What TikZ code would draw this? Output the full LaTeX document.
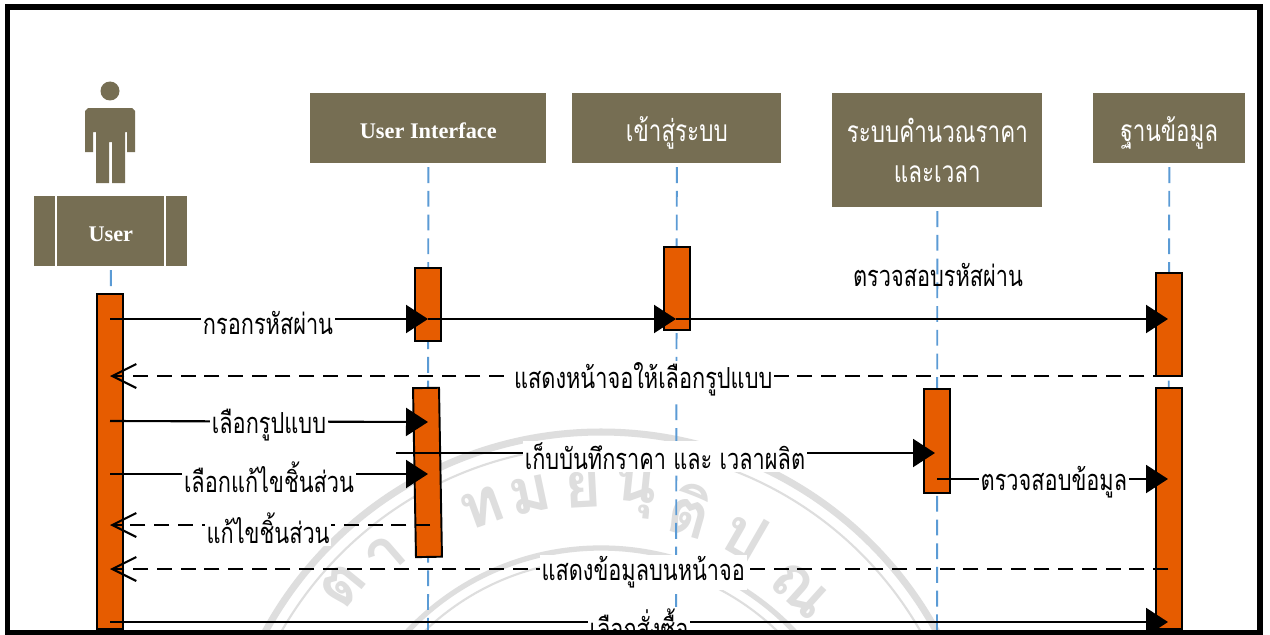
\documentclass[tikz,border=0pt]{standalone}
\usepackage{fontspec}
\usetikzlibrary{arrows.meta}
\setmainfont{Liberation Serif}
\newfontfamily\thaifont[Script=Thai,FakeStretch=0.75]{Loma}
\newfontfamily\sealfont[Script=Thai]{Loma}
\definecolor{boxolive}{HTML}{766E53}
\definecolor{actorange}{HTML}{E65C00}
\definecolor{lifeblue}{HTML}{5B9BD5}
\definecolor{sealgray}{HTML}{DEDEDE}
\tikzset{
  headbox/.style={fill=boxolive,text=white,inner sep=0pt,anchor=north west},
  headlatin/.style={headbox,font=\bfseries\fontsize{12.7}{15}\selectfont,text height=12pt},
  headthai/.style={headbox,font=\thaifont\fontsize{17}{23}\selectfont,align=center},
  lifeline/.style={draw=lifeblue,line width=1.1pt,dash pattern=on 9pt off 4.5pt,shorten <=2pt},
  actbox/.style={draw=black,line width=1.1pt,fill=actorange,inner sep=0pt,minimum width=0.52cm,anchor=north},
  msg/.style={line width=1.2pt,-{Triangle[length=0.44cm,width=0.56cm]}},
  reply/.style={line width=1.2pt,dash pattern=on 8.5pt off 5pt,-{Straight Barb[length=0.48cm,width=0.48cm,line width=1.2pt]}},
  thailabel/.style={font=\thaifont\fontsize{16.5}{19}\selectfont,inner sep=1pt},
  whitelabel/.style={thailabel,fill=white},
  seal/.style={draw=sealgray,line width=2pt},
  sealletter/.style={text=sealgray,font=\sealfont\bfseries\fontsize{36}{36}\selectfont,inner sep=0pt},
}
\begin{document}
\begin{tikzpicture}[x=0.02cm,y=-0.02cm]
  \useasboundingbox (0,0) rectangle (1270,635);
  \fill[white] (0,0) rectangle (1270,635);

  % seal behind everything
  \begin{scope}
    \clip (10,10) rectangle (1258,630);
    \draw[seal,line width=4pt] (601,814) circle (382);
    \draw[seal,line width=1.2pt] (601,814) circle (368);
    \draw[seal,line width=3pt] (601,814) circle (266);
    \draw[seal,line width=1.2pt] (601,814) circle (254);
    \node[sealletter,rotate=20] (seal1) at (482,508) {ท};
    \node[sealletter,rotate=12] (seal2) at (530,495) {ม};
    \node[sealletter,rotate=3] (seal3) at (583,490) {ย};
    \node[sealletter,rotate=-6] (seal4) at (635,492) {นุ};
    \node[sealletter,rotate=-16] (seal5) at (690,510) {ติ};
    \node[sealletter,rotate=-30] (seal6) at (745,535) {ป};
    \node[sealletter,rotate=-42] (seal7) at (800,590) {ณ};
    \node[sealletter,rotate=51] (seal8) at (343,585) {ต};
    \node[sealletter,rotate=41] (seal9) at (385,555) {า};
  \end{scope}

  % heads
  \node[headlatin,minimum width=4.72cm,minimum height=1.4cm] (ui) at (310,93) {User Interface};
  \node[headthai,minimum width=4.18cm,minimum height=1.4cm,text height=19pt] (login) at (572,93) {เข้าสู่ระบบ};
  \node[headthai,minimum width=4.2cm,minimum height=2.28cm] (calc) at (832,93) {ระบบคำนวณราคา\\และเวลา};
  \node[headthai,minimum width=3.04cm,minimum height=1.4cm,text height=19pt] (db) at (1093,93) {ฐานข้อมูล};

  % actor
  \node[headlatin,minimum width=3.06cm,minimum height=1.4cm] (user) at (34,196) {User};
  \draw[white,line width=1.1pt] (56,196) -- (56,266) (165,196) -- (165,266);
  \fill[boxolive] (110,91) circle (9.5);
  \fill[boxolive] (88,108) -- (132,108) -- (135,111) -- (135,152) -- (127,152) -- (127,132) -- (125,132) -- (125,183) -- (112,183) -- (112,142) -- (109,142) -- (109,183) -- (96,183) -- (96,132) -- (93,132) -- (93,152) -- (85,152) -- (85,111) -- cycle;

  % lifelines
  \coordinate (userend) at (110,635);
  \coordinate (uiend) at (428,635);
  \coordinate (loginend) at (676,635);
  \coordinate (calcend) at (937,635);
  \coordinate (dbend) at (1168,635);
  \draw[lifeline] (user.south) -- (userend);
  \draw[lifeline] (ui.south) -- (uiend);
  \draw[lifeline] (login.south) -- (loginend);
  \draw[lifeline] (calc.south) -- (calcend);
  \draw[lifeline] (db.south) -- (dbend);

  % activations
  \node[actbox,minimum height=6.7cm] (useract) at (110,293) {};
  \node[actbox,minimum height=1.46cm] (uiacta) at (428,267) {};
  \node[actbox,minimum height=1.66cm] (loginact) at (677,246) {};
  \node[actbox,minimum height=2.06cm] (dbacta) at (1169,272) {};
  \node[actbox,minimum height=3.38cm,rotate=1] (uiactb) at (426,387) {};
  \node[actbox,minimum height=2.08cm] (calcact) at (937,388) {};
  \node[actbox,minimum height=4.82cm] (dbactb) at (1169,387) {};

  % messages
  \coordinate (a1) at (110,319);
  \coordinate (a2) at (428,319);
  \coordinate (a3) at (676,319);
  \coordinate (a4) at (1168,319);
  \draw[msg] (a1) -- node[whitelabel,pos=0.497,yshift=-2pt] (m1) {กรอกรหัสผ่าน} (a2);
  \draw[msg] (a2) -- (a3);
  \draw[msg] (a3) -- (a4);
  \node[thailabel] (m2) at (938,275) {ตรวจสอบรหัสผ่าน};

  \coordinate (b1) at (1168,376);
  \coordinate (b2) at (110,376);
  \draw[reply] (b1) -- node[whitelabel,pos=0.496,yshift=-2pt] (m3) {แสดงหน้าจอให้เลือกรูปแบบ} (b2);

  \coordinate (c1) at (110,421);
  \coordinate (c2) at (428,422);
  \draw[msg] (c1) -- node[whitelabel,pos=0.5,yshift=-2pt] (m4) {เลือกรูปแบบ} (c2);

  \coordinate (d1) at (396,453);
  \coordinate (d2) at (935,453);
  \draw[msg] (d1) -- node[whitelabel,pos=0.499,yshift=-2pt] (m5) {เก็บบันทึกราคา และ เวลาผลิต} (d2);

  \coordinate (e1) at (110,474);
  \coordinate (e2) at (428,474);
  \draw[msg] (e1) -- node[whitelabel,pos=0.5,yshift=-2pt] (m6) {เลือกแก้ไขชิ้นส่วน} (e2);

  \coordinate (f1) at (937,479);
  \coordinate (f2) at (1168,479);
  \draw[msg] (f1) -- node[whitelabel,pos=0.506,yshift=-2pt] (m7) {ตรวจสอบข้อมูล} (f2);

  \coordinate (g1) at (430,525);
  \coordinate (g2) at (110,525);
  \draw[reply] (g1) -- node[whitelabel,pos=0.506,yshift=-2pt] (m8) {แก้ไขชิ้นส่วน} (g2);

  \coordinate (h1) at (1168,569);
  \coordinate (h2) at (110,569);
  \draw[reply] (h1) -- node[whitelabel,pos=0.496,yshift=-2pt] (m9) {แสดงข้อมูลบนหน้าจอ} (h2);

  \coordinate (j1) at (110,622);
  \coordinate (j2) at (1168,622);
  \draw[msg] (j1) -- node[whitelabel,pos=0.5,yshift=-1pt] (m10) {เลือกสั่งซื้อ} (j2);

  % frame
  \draw[black,line width=3pt] (7.5,7) rectangle (1260,632.5);
\end{tikzpicture}
\end{document}
